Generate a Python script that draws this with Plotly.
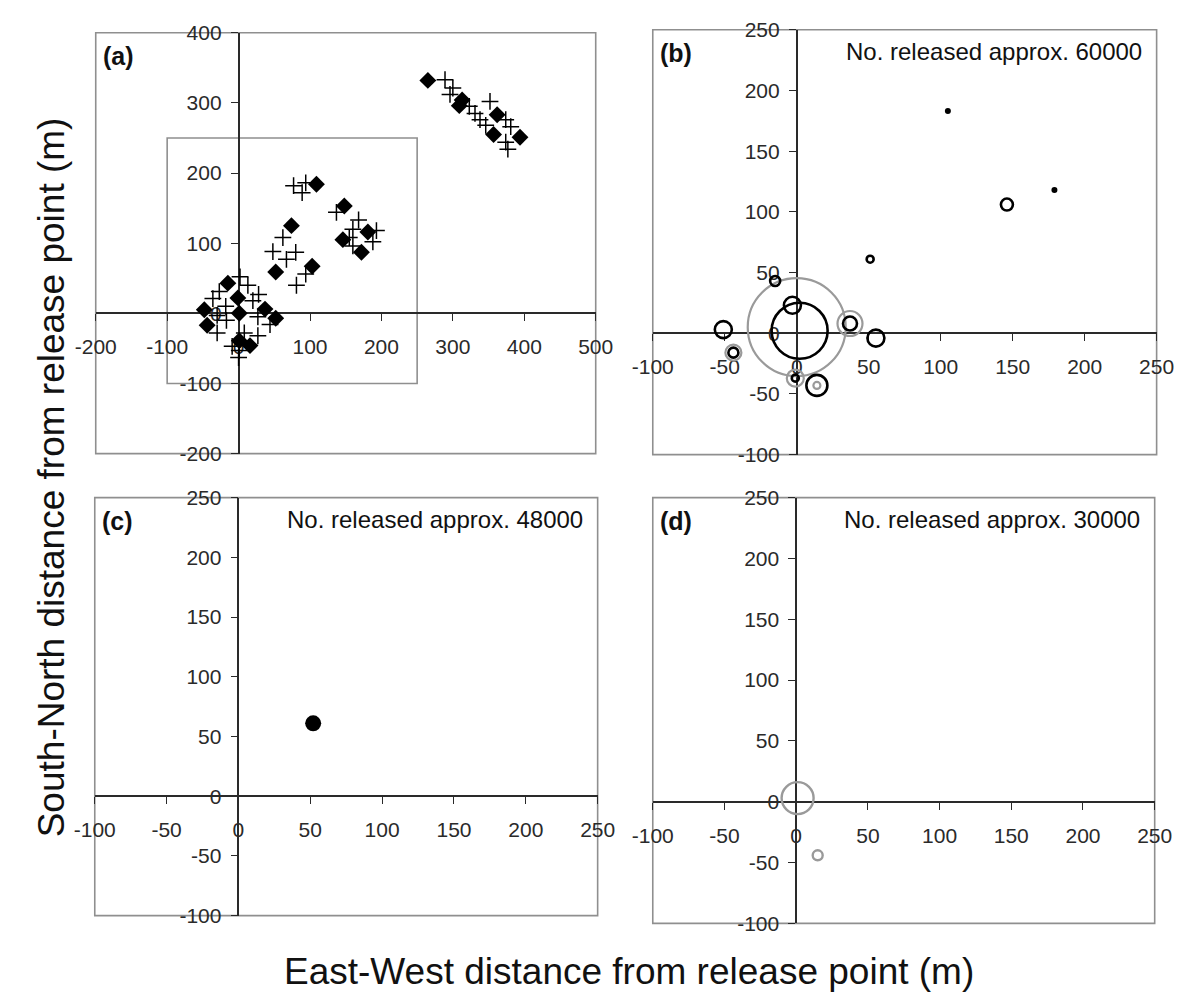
import plotly.graph_objects as go

# ---------------- data ----------------
# Panel (a): two sets of recapture positions (m)
a_diamond_x = [265, 313, 309, 362, 357, 394,
               109, 148, 74, 146, 181, 172, 52, 103,
               -15, -1, -48, 1, -44, 37, 52, 1, 16]
a_diamond_y = [332, 304, 296, 283, 255, 251,
               184, 153, 125, 105, 116, 87, 59, 67,
               43, 22, 5, 0, -17, 6, -7, -39, -46]
a_cross_x = [289, 300, 296, 323, 331, 338, 346, 352, 374, 381, 374, 377,
             77, 94, 89, 137, 168, 160, 155, 160, 188, 193,
             62, 48, 80, 67, 94, 81,
             2, 13, 28, -36, -27, -18, -30, -17, 20, 27, 44, -30, 8, 27, -9, 1, 0]
a_cross_y = [333, 321, 312, 295, 285, 276, 268, 302, 276, 266, 244, 234,
             182, 186, 172, 144, 133, 120, 108, 96, 102, 118,
             108, 88, 87, 77, 56, 40,
             52, 40, 27, 21, 31, 10, -3, -10, 18, -5, -16, -28, -28, -32, -47, -53, -63]

# Panel (b): bubbles (bubble value = marker diameter)
b_black_x = [-15, -3, 2, -51, -44, 37, 55, -1, 14, 51, 146]
b_black_y = [43, 23, 2, 3, -16, 8, -4, -37, -43, 61, 106]
b_black_bubble = [10, 17, 56, 17, 10, 14, 17, 7, 21, 7, 12]
b_dot_x = [105, 179]
b_dot_y = [183, 118]
b_grey_x = [0, -44, 37, -1, 14]
b_grey_y = [5, -16, 8, -37, -43]
b_grey_bubble = [98, 16, 25, 17, 7]

# Panel (c)
c_x = [52]
c_y = [61]
c_bubble = [16]

# Panel (d)
d_grey_x = [1, 15]
d_grey_y = [3, -44]
d_grey_bubble = [32, 10]

range_a_x = [-200, 500]
range_a_y = [-200, 400]
range_sub = [-100, 250]
ticks_a_x = [-200, -100, 0, 100, 200, 300, 400, 500]
ticks_a_y = [-200, -100, 0, 100, 200, 300, 400]
ticks_sub = [-100, -50, 0, 50, 100, 150, 200, 250]

labels = ["(a)", "(b)", "(c)", "(d)"]
notes = [None, "No. released approx. 60000", "No. released approx. 48000",
         "No. released approx. 30000"]
x_title = "East-West distance from release point (m)"
y_title = "South-North distance from release point (m)"

# ---------------- layout helpers ----------------
FW, FH, OFF = 1185, 985, 8


def fx(px):
    return (px - OFF) / FW


def fy(py):
    return 1 - (py - OFF) / FH


FONT = "Liberation Sans, Arial, sans-serif"
AX_COL = "#2a2a2a"
BOX_COL = "#8f8f8f"
GREY = "#9a9a9a"

# pixel boxes of each panel: (left, right, top, bottom)
boxes = [(77, 594, 21, 452), (653, 1174, 18, 453),
         (76, 596, 497, 925), (653, 1172, 497, 933)]
xranges = [range_a_x, range_sub, range_sub, range_sub]
yranges = [range_a_y, range_sub, range_sub, range_sub]
xticks = [ticks_a_x, ticks_sub, ticks_sub, ticks_sub]
yticks = [ticks_a_y, ticks_sub, ticks_sub, ticks_sub]

fig = go.Figure()
layout = dict(width=FW, height=FH, margin=dict(l=0, r=0, t=0, b=0),
              paper_bgcolor="white", plot_bgcolor="white", showlegend=False,
              font=dict(family=FONT, color=AX_COL, size=21))
shapes, annotations = [], []

for i in range(4):
    l, r, t, b = boxes[i]
    xd = [fx(l), fx(r)]
    yd = [fy(b), fy(t)]
    xr, yr = xranges[i], yranges[i]
    xpos = yd[0] + (0 - yr[0]) / (yr[1] - yr[0]) * (yd[1] - yd[0])
    ypos = xd[0] + (0 - xr[0]) / (xr[1] - xr[0]) * (xd[1] - xd[0])
    sfx = "" if i == 0 else str(i + 1)
    layout["xaxis" + sfx] = dict(
        domain=xd, range=xr, anchor="free", position=xpos,
        tickvals=xticks[i], ticktext=[str(v) for v in xticks[i]],
        ticks="outside", ticklen=7, tickwidth=1.3, tickcolor=AX_COL,
        showline=True, linecolor=AX_COL, linewidth=1.6,
        showgrid=False, zeroline=False, layer="below traces",
        tickfont=dict(size=21, family=FONT, color=AX_COL),
        ticklabelstandoff=8, fixedrange=True)
    layout["yaxis" + sfx] = dict(
        domain=yd, range=yr, anchor="free", position=ypos,
        tickvals=yticks[i], ticktext=[str(v) for v in yticks[i]],
        ticks="outside", ticklen=7, tickwidth=1.3, tickcolor=AX_COL,
        showline=True, linecolor=AX_COL, linewidth=1.6,
        showgrid=False, zeroline=False, layer="below traces",
        tickfont=dict(size=21, family=FONT, color=AX_COL),
        ticklabelstandoff=5, fixedrange=True)
    xref = "x" + sfx
    yref = "y" + sfx
    shapes.append(dict(type="rect", xref=xref + " domain", yref=yref + " domain",
                       x0=0, x1=1, y0=0, y1=1, line=dict(color=BOX_COL, width=1.6),
                       layer="below"))
    annotations.append(dict(text="<b>" + labels[i] + "</b>", xref="paper", yref="paper",
                            x=fx(l + 5), y=fy(t + 24), xanchor="left", yanchor="middle",
                            showarrow=False, font=dict(size=25, family=FONT, color="#111")))
    if notes[i]:
        annotations.append(dict(text=notes[i], xref="paper", yref="paper",
                                x=fx(r - 13), y=fy(t + 22), xanchor="right", yanchor="middle",
                                showarrow=False, font=dict(size=24, family=FONT, color="#111")))

# zoom-region box in panel (a) (extent of panels b-d)
shapes.append(dict(type="rect", xref="x", yref="y",
                   x0=range_sub[0], x1=range_sub[1], y0=range_sub[0], y1=range_sub[1],
                   line=dict(color=BOX_COL, width=1.6), layer="below"))

# axis titles
annotations.append(dict(text=x_title, xref="paper", yref="paper", x=fx(628), y=fy(982),
                        xanchor="center", yanchor="middle", showarrow=False,
                        font=dict(size=37, family=FONT, color="#111")))
annotations.append(dict(text=y_title, xref="paper", yref="paper", x=fx(31), y=fy(476),
                        xanchor="center", yanchor="middle", textangle=-90, showarrow=False,
                        font=dict(size=37, family=FONT, color="#111")))

layout["shapes"] = shapes
layout["annotations"] = annotations

# ---------------- traces ----------------
fig.add_trace(go.Scatter(x=a_cross_x, y=a_cross_y, mode="markers", xaxis="x", yaxis="y",
                         marker=dict(symbol="cross-thin-open", size=12, color="black",
                                     opacity=1, line=dict(color="black", width=1.5)),
                         name="cross"))
fig.add_trace(go.Scatter(x=a_diamond_x, y=a_diamond_y, mode="markers", xaxis="x", yaxis="y",
                         marker=dict(symbol="diamond", size=13, color="black", opacity=1,
                                     line=dict(width=0)),
                         name="diamond"))

fig.add_trace(go.Scatter(x=b_grey_x, y=b_grey_y, mode="markers", xaxis="x2", yaxis="y2",
                         marker=dict(symbol="circle-open", size=b_grey_bubble, color=GREY,
                                     opacity=1, line=dict(color=GREY, width=2.2))))
fig.add_trace(go.Scatter(x=b_black_x, y=b_black_y, mode="markers", xaxis="x2", yaxis="y2",
                         marker=dict(symbol="circle-open", size=b_black_bubble, color="black",
                                     opacity=1, line=dict(color="black", width=2.6))))
fig.add_trace(go.Scatter(x=b_dot_x, y=b_dot_y, mode="markers", xaxis="x2", yaxis="y2",
                         marker=dict(symbol="circle", size=6, color="black", opacity=1,
                                     line=dict(width=0))))

fig.add_trace(go.Scatter(x=c_x, y=c_y, mode="markers", xaxis="x3", yaxis="y3",
                         marker=dict(symbol="circle", size=c_bubble, color="black",
                                     opacity=1, line=dict(width=0))))

fig.add_trace(go.Scatter(x=d_grey_x, y=d_grey_y, mode="markers", xaxis="x4", yaxis="y4",
                         marker=dict(symbol="circle-open", size=d_grey_bubble, color=GREY,
                                     opacity=1, line=dict(color=GREY, width=2.4))))

fig.update_layout(**layout)
fig.write_html("out.html")
